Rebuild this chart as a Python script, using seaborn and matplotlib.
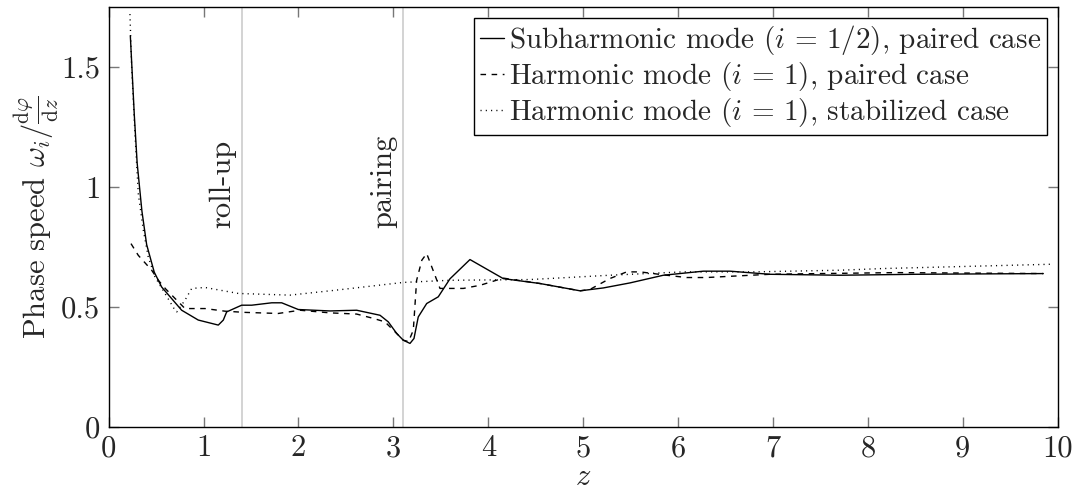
import numpy as np
import pandas as pd
import matplotlib
matplotlib.use("Agg")
import matplotlib.pyplot as plt
import seaborn as sns

# values
z_sub = [0.228, 0.27, 0.30, 0.35, 0.40, 0.48, 0.558, 0.769, 0.944, 1.155, 1.208, 1.243,
         1.401, 1.507, 1.718, 1.823, 1.998, 2.332, 2.613, 2.859, 2.946, 3.035, 3.104,
         3.175, 3.217, 3.262, 3.351, 3.473, 3.596, 3.807, 4.158, 4.545, 4.967, 5.212,
         5.493, 5.844, 6.266, 6.547, 6.968, 7.706, 8.5, 9.848]
c_sub = [1.632, 1.30, 1.10, 0.90, 0.76, 0.645, 0.583, 0.486, 0.445, 0.424, 0.445, 0.479,
         0.507, 0.507, 0.517, 0.517, 0.489, 0.483, 0.486, 0.465, 0.4375, 0.389, 0.361,
         0.3475, 0.368, 0.458, 0.514, 0.542, 0.617, 0.6975, 0.618, 0.5975, 0.567, 0.579,
         0.6, 0.632, 0.649, 0.649, 0.636, 0.632, 0.636, 0.639]

z_harm = [0.235, 0.312, 0.453, 0.523, 0.6, 0.804, 0.875, 1.015, 1.226, 1.436, 1.787,
          2.016, 2.332, 2.613, 2.788, 2.911, 3.035, 3.104, 3.16, 3.21, 3.245, 3.30,
          3.351, 3.491, 3.737, 3.913, 4.158, 4.545, 4.967, 5.07, 5.28, 5.458, 5.6,
          5.739, 5.88, 6.09, 6.30, 6.617, 6.968, 7.495, 8.3, 9.848]
c_harm = [0.764, 0.715, 0.653, 0.611, 0.575, 0.493, 0.493, 0.493, 0.482, 0.477, 0.4725,
          0.486, 0.475, 0.47, 0.452, 0.4375, 0.389, 0.361, 0.355, 0.403, 0.611, 0.695,
          0.7225, 0.577, 0.577, 0.59, 0.62, 0.5975, 0.567, 0.5725, 0.618, 0.646, 0.646,
          0.639, 0.632, 0.6225, 0.6225, 0.629, 0.636, 0.639, 0.643, 0.639]

z_stab = [0.224, 0.242, 0.277, 0.312, 0.365, 0.417, 0.488, 0.593, 0.699, 0.717, 0.804,
          0.875, 1.015, 1.366, 1.91, 2.40, 3.104, 3.596, 4.44, 5.28, 6.05, 6.79, 7.706,
          8.16, 9.94]
c_stab = [1.722, 1.50, 1.222, 0.972, 0.82, 0.708, 0.625, 0.556, 0.486, 0.479, 0.528,
          0.577, 0.581, 0.556, 0.549, 0.57, 0.602, 0.611, 0.614, 0.632, 0.646, 0.646,
          0.653, 0.66, 0.678]

labels = ["Subharmonic mode ($i\\,=\\,1/2$), paired case",
          "Harmonic mode ($i\\,=\\,1$), paired case",
          "Harmonic mode ($i\\,=\\,1$), stabilized case"]

events = ["roll-up", "pairing"]
z_events = [1.40, 3.10]

FS = 22

sns.set_style("ticks")
plt.rcParams["font.family"] = ["cmr10", "DejaVu Serif"]
plt.rcParams["mathtext.fontset"] = "cm"
plt.rcParams["axes.formatter.use_mathtext"] = True
plt.rcParams["font.size"] = FS

fig = plt.figure(figsize=(10.74, 4.91), dpi=100)
ax = fig.add_axes([0.1012, 0.131, 0.8836, 0.854])

for zx in z_events:
    ax.axvline(zx, color="#cccccc", lw=1.2, zorder=0)

sns.lineplot(x=z_sub, y=c_sub, ax=ax, color="black", lw=1.0, linestyle="-", label=labels[0])
sns.lineplot(x=z_harm, y=c_harm, ax=ax, color="black", lw=1.0, linestyle=(0, (4, 4)), label=labels[1])
sns.lineplot(x=z_stab, y=c_stab, ax=ax, color="black", lw=1.0, linestyle=(0, (0.8, 3)), label=labels[2])

for name, zx in zip(events, z_events):
    ax.annotate(name, xy=(zx, 0.83), xytext=(-4, 0), textcoords="offset points",
                rotation=90, ha="right", va="bottom", fontsize=FS)

ax.set_xlim(0, 10)
ax.set_ylim(0, 1.75)
ax.set_xticks(range(0, 11))
ax.set_yticks([0, 0.5, 1, 1.5])
ax.set_xticklabels([str(v) for v in range(0, 11)])
ax.set_yticklabels(["0", "0.5", "1", "1.5"])
ax.tick_params(direction="in", length=7, width=1, color="#777777",
               top=True, right=True, labelsize=FS)
ax.tick_params(axis="x", pad=6)
ax.tick_params(axis="y", pad=6)
for s in ax.spines.values():
    s.set_color("black")
    s.set_linewidth(1.0)

ax.set_xlabel("$z$", fontsize=FS, labelpad=1)
ax.set_ylabel(r"Phase speed $\omega_i/\frac{\mathrm{d}\varphi}{\mathrm{d}z}$", fontsize=FS, labelpad=0)

leg = ax.legend(loc="upper right", frameon=True, fancybox=False, framealpha=1,
                edgecolor="black", handlelength=0.8, handletextpad=0.2,
                labelspacing=0.1, borderpad=0.2, borderaxespad=0.35, fontsize=21)
leg.get_frame().set_linewidth(1.0)

fig.savefig("out.png", dpi=100)
